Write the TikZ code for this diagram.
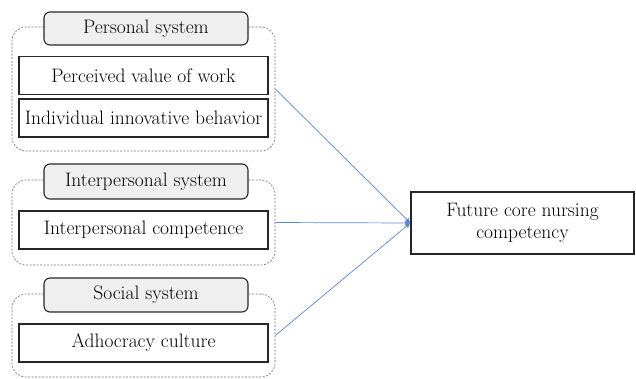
\documentclass[tikz,border=0pt]{standalone}
\usetikzlibrary{arrows.meta}
\definecolor{linkblue}{HTML}{5B86D6}
\definecolor{headfill}{HTML}{EFEFEF}
\definecolor{groupgray}{HTML}{707070}
\begin{document}
\begin{tikzpicture}[x=1pt,y=-1pt,
  txt/.style={font=\fontsize{19.5}{23}\selectfont},
  group/.style={draw=groupgray,dashed,dash pattern=on 2pt off 1.5pt,line width=0.6pt,rounded corners=14pt,minimum width=263pt,inner sep=0pt},
  header/.style={txt,draw=black!85,fill=headfill,line width=1.1pt,rounded corners=6pt,minimum width=204pt,inner sep=0pt},
  factor/.style={txt,draw=black!85,line width=1.3pt,minimum width=249pt,minimum height=38pt,inner sep=0pt},
  link/.style={draw=linkblue,line width=0.7pt,-{Latex[length=5pt,width=5pt]}}
]
\useasboundingbox (0,0) rectangle (636,378);

% dashed group frames
\node[group,minimum height=124pt] (pgrp) at (143.5,89) {};
\node[group,minimum height=85pt] (igrp) at (143.5,222.5) {};
\node[group,minimum height=83pt] (sgrp) at (143.5,335.5) {};

% group headers
\node[header,minimum height=33pt] (phead) at (146,28.5) {Personal system};
\node[header,minimum height=35pt] (ihead) at (146,181.5) {Interpersonal system};
\node[header,minimum height=34pt] (shead) at (146,295) {Social system};

% factors
\node[factor] (pvw) at (143.5,75.5) {Perceived value of work};
\node[factor] (iib) at (143.5,118) {Individual innovative behavior};
\node[factor] (ipc) at (143.5,230) {Interpersonal competence};
\node[factor] (adc) at (143.5,343) {Adhocracy culture};

% outcome
\node[factor,minimum width=223pt,minimum height=62pt,align=center] (fut) at (522.5,223)
  {Future core nursing\\[-1pt]competency};

% paths
\draw[link] (pgrp.east) -- (fut.west);
\draw[link] (igrp.east) -- (fut.west);
\draw[link] (sgrp.east) -- (fut.west);
\end{tikzpicture}
\end{document}
